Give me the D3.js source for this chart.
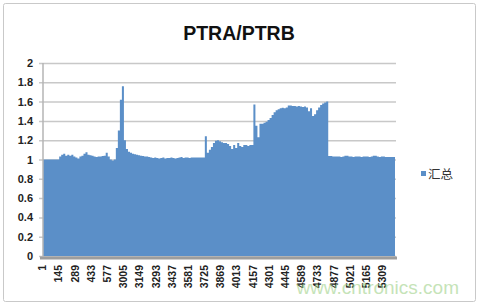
<!DOCTYPE html>
<html>
<head>
<meta charset="utf-8">
<script src="https://cdn.jsdelivr.net/npm/d3@7"></script>
<style>
  body { margin: 0; background: #fff; }
  svg { display: block; font-family: "Liberation Sans", Arial, sans-serif; }
</style>
</head>
<body>
<script>
// chart title and legend
var title = "PTRA/PTRB";
var seriesName = "汇总";

// x axis labels, one every 8 samples
var tickLabels = ["1", "145", "289", "433", "577", "3005", "3149", "3293", "3437", "3581", "3725",
                  "3869", "4013", "4157", "4301", "4445", "4589", "4733", "4877", "5021", "5165", "5309"];

// y ticks
var yTicks = [0, 0.2, 0.4, 0.6, 0.8, 1, 1.2, 1.4, 1.6, 1.8, 2];

var ratio = [
  1.0, 1.0, 1.0, 1.0, 1.0, 1.0, 1.0, 1.0, 1.03, 1.05,
  1.06, 1.04, 1.05, 1.04, 1.05, 1.03, 1.02, 1.01, 1.03, 1.04,
  1.06, 1.075, 1.05, 1.045, 1.04, 1.03, 1.025, 1.03, 1.03, 1.035,
  1.04, 1.07, 1.03, 1.0, 0.99, 1.0, 1.12, 1.3, 1.62, 1.76,
  1.2, 1.11, 1.08, 1.07, 1.06, 1.055, 1.05, 1.045, 1.04, 1.035,
  1.03, 1.03, 1.025, 1.02, 1.015, 1.02, 1.015, 1.01, 1.015, 1.02,
  1.01, 1.015, 1.015, 1.02, 1.015, 1.01, 1.015, 1.02, 1.025, 1.015,
  1.02, 1.02, 1.015, 1.02, 1.02, 1.02, 1.02, 1.02, 1.02, 1.02,
  1.24, 1.07, 1.1, 1.13, 1.17, 1.195, 1.2, 1.19, 1.18, 1.17,
  1.17, 1.16, 1.14, 1.11, 1.15, 1.12, 1.17, 1.14, 1.13, 1.15,
  1.15, 1.14, 1.15, 1.15, 1.57, 1.35, 1.23, 1.37, 1.37, 1.38,
  1.39, 1.41, 1.43, 1.46, 1.49, 1.51, 1.52, 1.53, 1.535, 1.53,
  1.54, 1.56, 1.56, 1.555, 1.555, 1.55, 1.555, 1.55, 1.545, 1.55,
  1.54, 1.5, 1.53, 1.45, 1.47, 1.51, 1.54, 1.565, 1.58, 1.59,
  1.6, 1.035, 1.035, 1.03, 1.03, 1.03, 1.03, 1.025, 1.03, 1.04,
  1.04, 1.03, 1.03, 1.025, 1.03, 1.03, 1.03, 1.025, 1.03, 1.03,
  1.03, 1.025, 1.03, 1.04, 1.04, 1.03, 1.025, 1.03, 1.03, 1.025,
  1.025, 1.025, 1.025, 1.025
];

var W = 479, H = 305;
var margin = {top: 63, left: 43},
    width = 352,
    height = 193;
var blue = "#5b8fc8";

var svg = d3.select("body").append("svg")
    .attr("width", W)
    .attr("height", H);

// outer frame
svg.append("rect")
    .attr("x", 3.5).attr("y", 3.5)
    .attr("width", W - 7).attr("height", H - 7)
    .attr("rx", 2)
    .attr("fill", "#fff")
    .attr("stroke", "#c9c9c9");

svg.append("text")
    .attr("x", 239).attr("y", 40)
    .attr("text-anchor", "middle")
    .style("font-size", "19.5px")
    .style("font-weight", "bold")
    .attr("fill", "#111")
    .text(title);

var g = svg.append("g")
    .attr("transform", "translate(" + margin.left + "," + margin.top + ")");

var x = d3.scaleLinear().domain([0, ratio.length]).range([0, width]);
var y = d3.scaleLinear().domain([0, 2]).range([height, 0]);

// gridlines + y labels
g.append("g")
    .call(d3.axisLeft(y).tickValues(yTicks).tickSize(-width - 5).tickPadding(6).tickFormat(d3.format("")))
    .attr("transform", "translate(-4,0)")
    .call(function(a) {
      a.select(".domain").remove();
      a.selectAll("line").attr("stroke", "#c8c8c8").attr("stroke-width", 1.5);
      a.selectAll("text").attr("fill", "#222").style("font-size", "11px").style("font-weight", "bold");
    });

// the series, drawn as a stepped area
var pts = ratio.concat([ratio[ratio.length - 1]]);
var area = d3.area()
    .x(function(d, i) { return x(i); })
    .y0(y(0))
    .y1(function(d) { return y(d); })
    .curve(d3.curveStepAfter);

g.append("path")
    .datum(pts)
    .attr("fill", blue)
    .attr("d", area);

// y axis line
g.append("line")
    .attr("x1", 0).attr("x2", 0)
    .attr("y1", 0).attr("y2", height)
    .attr("stroke", "#b5b5b5").attr("stroke-width", 1.5);

// x axis
var xAxis = g.append("g")
    .attr("transform", "translate(0," + height + ")")
    .call(d3.axisBottom(x)
      .tickValues(tickLabels.map(function(d, i) { return i * 8; }))
      .tickSize(0)
      .tickFormat(function(d) { return tickLabels[d / 8]; }));
xAxis.select(".domain")
    .attr("d", "M-3,2H" + (width + 2))
    .attr("stroke", "#9d9d9d").attr("stroke-width", 3);
xAxis.selectAll("text")
    .attr("fill", "#222")
    .style("font-size", "10.5px")
    .style("font-weight", "bold")
    .style("text-anchor", "end")
    .attr("dominant-baseline", "middle")
    .attr("x", 0).attr("y", 0).attr("dy", null)
    .attr("transform", "translate(0,9) rotate(-90)");

// legend
var lg = svg.append("g").attr("transform", "translate(421,171)");
lg.append("rect").attr("width", 5).attr("height", 5).attr("fill", blue);
lg.append("text")
    .attr("x", 7).attr("y", 8)
    .style("font-size", "12.5px")
    .style("font-family", "'Noto Sans CJK SC', sans-serif")
    .attr("fill", "#333")
    .text(seriesName);

// watermark
svg.append("text")
    .attr("x", 459).attr("y", 294)
    .attr("text-anchor", "end")
    .style("font-size", "19px")
    .attr("fill", "#9fd28a")
    .attr("opacity", 0.6)
    .text("www.cntronics.com");
</script>
</body>
</html>
